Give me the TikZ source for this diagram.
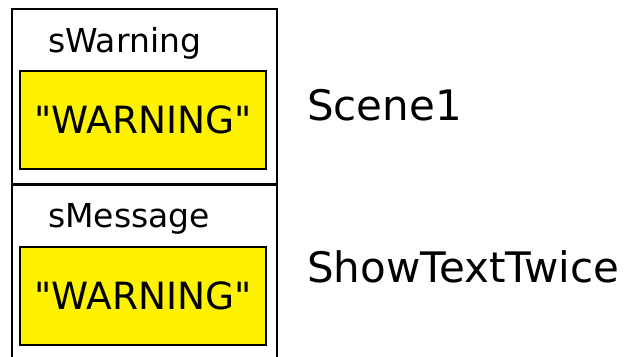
\documentclass[tikz,border=0pt]{standalone}
\usepackage{fontspec}
\setmainfont{DejaVu Sans}
\usetikzlibrary{positioning}

\begin{document}
\begin{tikzpicture}[
  x=1pt,y=-1pt,
  frame/.style={rectangle,draw=black,line width=2pt,inner sep=0pt,
                minimum width=265pt,anchor=north west},
  strbox/.style={rectangle,draw=black,line width=2pt,fill=yellow,inner sep=0pt,
                 minimum width=246pt,minimum height=98pt,
                 font=\fontsize{37.5}{44}\selectfont},
  varlbl/.style={anchor=base west,inner sep=0pt,font=\fontsize{33}{38}\selectfont},
  scnlbl/.style={anchor=base west,inner sep=0pt,font=\fontsize{42}{48}\selectfont}
]
  \clip (0,0) rectangle (631,356);

  \node[frame,minimum height=175pt] (fScene)   at (11,8)   {};
  \node[frame,minimum height=200pt] (fTwice)   at (11,184) {};

  \node[varlbl] (lWarning) at (48,52)  {sWarning};
  \node[strbox] (vWarning) at (143,120) {\textquotedbl WARNING\textquotedbl};

  \node[varlbl] (lMessage) at (48,227) {sMessage};
  \node[strbox] (vMessage) at (143,296) {\textquotedbl WARNING\textquotedbl};

  \node[scnlbl] (scene)    at (307,120) {Scene1};
  \node[scnlbl] (twice)    at (307,282) {ShowTextTwice};
\end{tikzpicture}
\end{document}
